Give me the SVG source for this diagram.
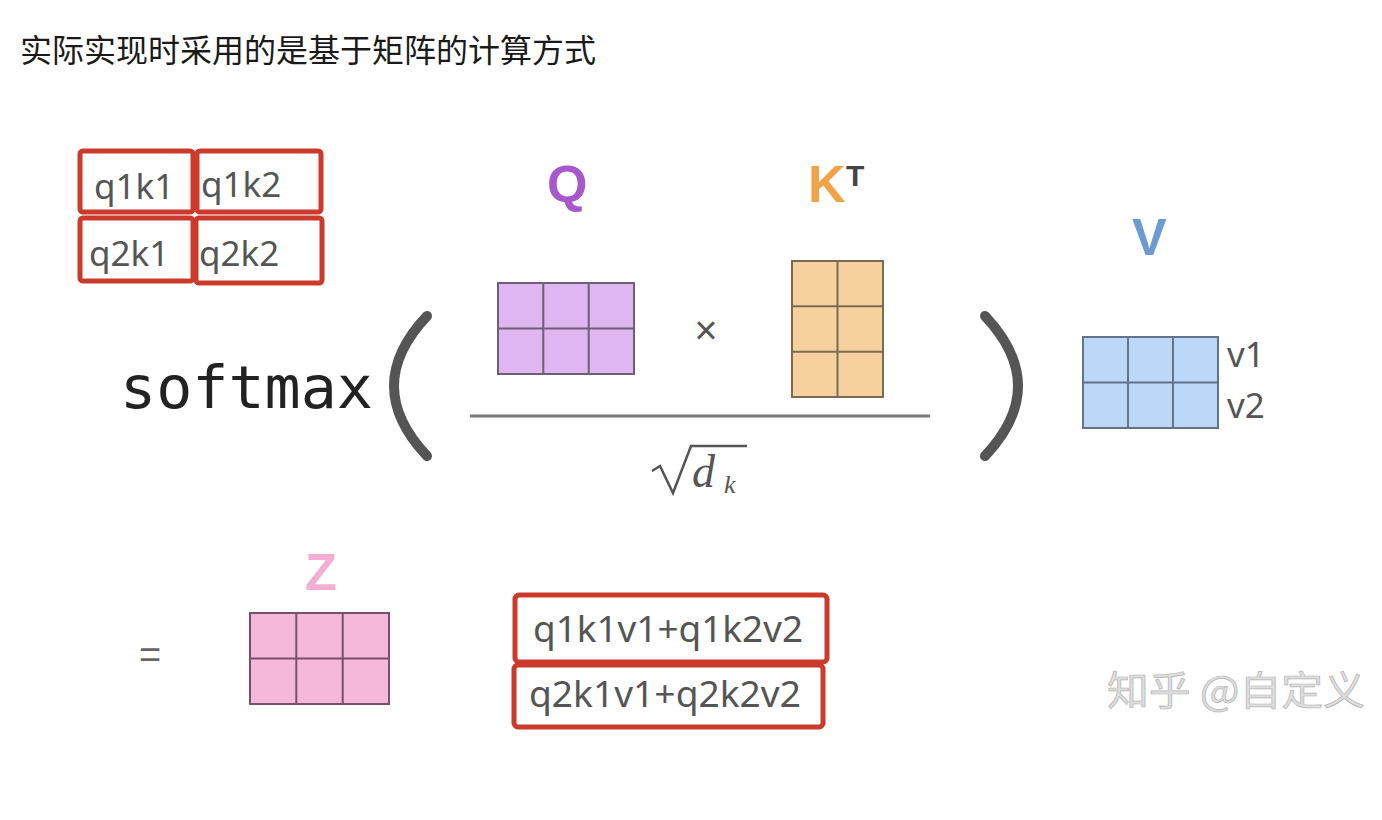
<svg xmlns="http://www.w3.org/2000/svg" width="1382" height="820" viewBox="0 0 1382 820">
<style>
.title{font-family:"Noto Sans CJK SC","Noto Sans",sans-serif;font-size:32px;fill:#1a1a1a}
.lbl{font-family:"Noto Sans","Open Sans",sans-serif;font-size:35px;fill:#555}
.res{font-family:"Noto Sans","Open Sans",sans-serif;font-size:36px;fill:#555}
.red{fill:#fff;stroke:#cc3a2b;stroke-width:5}
.big{font-family:"Liberation Sans",Arial,sans-serif;font-weight:bold;font-size:52px}
.grid{stroke-width:2}
.paren{fill:none;stroke:#555;stroke-width:10;stroke-linecap:round}
</style>
<rect width="1382" height="820" fill="#fff"/>
<text class="title" x="20" y="62">实际实现时采用的是基于矩阵的计算方式</text>

<g id="scores">
  <rect class="red" x="80" y="151" width="113" height="61" rx="3"/>
  <rect class="red" x="197" y="151" width="124" height="61" rx="3"/>
  <rect class="red" x="80" y="218" width="113" height="63" rx="3"/>
  <rect class="red" x="196" y="218" width="126" height="65" rx="3"/>
  <text class="lbl" x="94" y="199">q1k1</text>
  <text class="lbl" x="201" y="197">q1k2</text>
  <text class="lbl" x="89" y="266">q2k1</text>
  <text class="lbl" x="199" y="266">q2k2</text>
</g>

<g id="softmax">
  <text x="120" y="408" font-family="DejaVu Sans Mono,monospace" font-size="58" fill="#222" textLength="253" lengthAdjust="spacingAndGlyphs">softmax</text>
  <path class="paren" d="M427 316 Q361 386 427 456"/>
  <path class="paren" d="M985 316 Q1051 386 985 456"/>
</g>

<g id="Q">
  <text class="big" x="547" y="202" fill="#a758cf">Q</text>
  <rect x="498" y="283" width="136" height="91" fill="#dfb6f1" stroke="#6d5f74" class="grid"/>
  <path d="M543.3 283V374M588.7 283V374M498 328.5H634" stroke="#6d5f74" class="grid"/>
</g>

<text x="706" y="344" font-family="Liberation Sans,Arial,sans-serif" font-size="40" fill="#555" text-anchor="middle">×</text>

<g id="KT">
  <text class="big" x="808" y="202" fill="#f1a347">K</text>
  <text x="846" y="186" font-family="Liberation Sans,Arial,sans-serif" font-weight="bold" font-size="30" fill="#444">T</text>
  <rect x="792" y="261" width="91" height="136" fill="#f6d09d" stroke="#7a6b55" class="grid"/>
  <path d="M837.5 261V397M792 306.3H883M792 351.7H883" stroke="#7a6b55" class="grid"/>
</g>

<g id="fraction">
  <line x1="470" y1="416" x2="930" y2="416" stroke="#777" stroke-width="3"/>
  <path d="M652 471 L660 466 L673 493 L691 446 L747 446" fill="none" stroke="#555" stroke-width="2.5"/>
  <text x="692" y="487" font-family="Liberation Serif,serif" font-style="italic" font-size="46" fill="#555">d</text>
  <text x="724" y="493" font-family="Liberation Serif,serif" font-style="italic" font-size="26" fill="#555">k</text>
</g>

<g id="V">
  <text class="big" x="1132" y="255" fill="#6a9bd3">V</text>
  <rect x="1083" y="337" width="135" height="91" fill="#bcd8f8" stroke="#62738a" class="grid"/>
  <path d="M1128 337V428M1173 337V428M1083 382.5H1218" stroke="#62738a" class="grid"/>
  <text class="lbl" x="1227" y="367">v1</text>
  <text class="lbl" x="1227" y="418">v2</text>
</g>

<g id="Z">
  <text x="139" y="668" font-family="Liberation Sans,Arial,sans-serif" font-size="38" fill="#666">=</text>
  <text class="big" x="305" y="590" fill="#f2afd2">Z</text>
  <rect x="250" y="613" width="139" height="91" fill="#f3b8da" stroke="#7a5068" class="grid"/>
  <path d="M296.3 613V704M342.7 613V704M250 658.5H389" stroke="#7a5068" class="grid"/>
</g>

<g id="result">
  <rect class="red" x="515" y="595" width="312" height="67" rx="4"/>
  <rect class="red" x="514" y="665" width="309" height="62" rx="4"/>
  <text class="res" x="533" y="642" textLength="270" lengthAdjust="spacingAndGlyphs">q1k1v1+q1k2v2</text>
  <text class="res" x="529" y="707" textLength="272" lengthAdjust="spacingAndGlyphs">q2k1v1+q2k2v2</text>
</g>

<text x="1107" y="705" font-family="Noto Sans CJK SC,sans-serif" font-size="40" fill="#dedede" stroke="#b4b4b4" stroke-width="0.7" textLength="258" lengthAdjust="spacingAndGlyphs">知乎 @自定义</text>
</svg>
